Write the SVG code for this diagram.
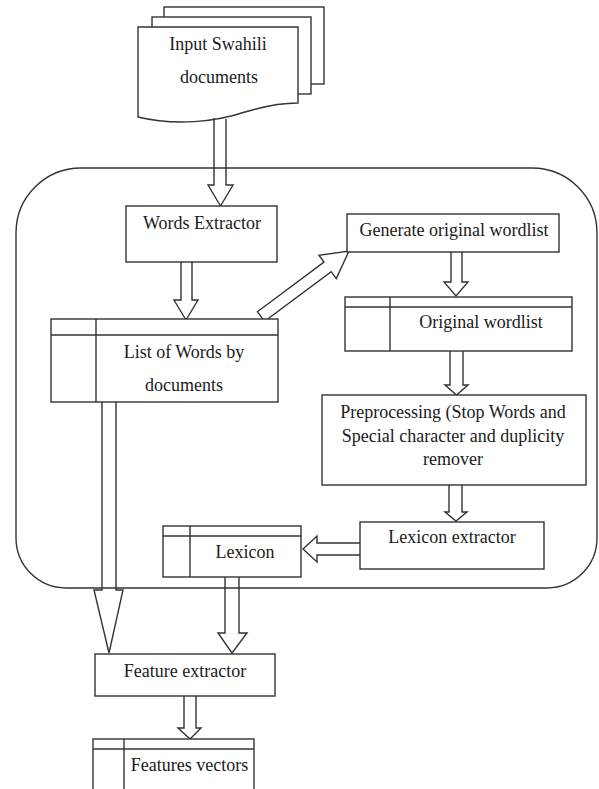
<svg xmlns="http://www.w3.org/2000/svg" width="599" height="789" viewBox="0 0 599 789">
<style>
.s{fill:#fff;stroke:#333;stroke-width:1.4}
.a{fill:none;stroke:#333;stroke-width:1.4;stroke-linejoin:miter}
.l{fill:none;stroke:#333;stroke-width:1.4}
text{font-family:"Liberation Serif","Times New Roman",serif;font-size:18px;fill:#1a1a1a;text-anchor:middle}
</style>
<rect width="599" height="789" fill="#fff"/>
<g id="system">
<path class="l" d="M81,168 H532 A65,65 0 0 1 597,233 V538 A50,50 0 0 1 547,588 H66 A50,50 0 0 1 16,538 V233 A65,65 0 0 1 81,168 Z"/>
</g>
<g id="input-docs">
<rect class="s" x="164" y="7" width="160" height="77"/>
<rect class="s" x="152" y="17" width="159" height="77"/>
<path class="s" d="M138,27 H298 V103 C285,103 265,106 245,112 C215,122 175,126 138,117 Z"/>
<text x="218" y="50">Input Swahili</text>
<text x="219" y="83">documents</text>
</g>
<g id="connectors">
<path class="a" d="M214,118 V185 H208 L220.5,206 L233,185 H226 V119"/>
<path class="a" d="M181,262 V300 H174 L186,320 L198,300 H192 V262"/>
<path class="a" d="M257.4,311.7 L324,262.1 L318.9,255.2 L349,251 L336.3,278.6 L331.2,271.7 L264.6,321.3 Z"/>
<path class="a" d="M451,252 V282 H444 L456,296 L468,282 H462 V252"/>
<path class="a" d="M450,351 V385 H445 L456.5,395 L468,385 H463 V351"/>
<path class="a" d="M449,485 V512 H445 L456,521 L467,512 H462 V485"/>
<path class="a" d="M360,543 H317 V536 L303,549 L317,562 V555 H360"/>
<path class="a" d="M102,402 V590 H94 L109,653 L123,590 H116 V402"/>
<path class="a" d="M225,577 V633 H218 L232,653 L247,633 H239 V577"/>
<path class="a" d="M184,696 V728 H178 L190,739 L201,728 H196 V696"/>
</g>
<g id="words-extractor">
<rect class="s" x="126" y="206" width="151" height="56"/>
<text x="202" y="229">Words Extractor</text>
</g>
<g id="list-of-words">
<rect class="s" x="51" y="319" width="227" height="83"/>
<line class="l" x1="51" y1="335" x2="278" y2="335"/>
<line class="l" x1="96" y1="319" x2="96" y2="402"/>
<text x="184" y="358">List of Words by</text>
<text x="184" y="391">documents</text>
</g>
<g id="generate-wordlist">
<rect class="s" x="347" y="214" width="212" height="38"/>
<text x="454" y="236">Generate original wordlist</text>
</g>
<g id="original-wordlist">
<rect class="s" x="345" y="297" width="227" height="54"/>
<line class="l" x1="345" y1="307" x2="572" y2="307"/>
<line class="l" x1="390" y1="297" x2="390" y2="351"/>
<text x="481" y="328">Original wordlist</text>
</g>
<g id="preprocessing">
<rect class="s" x="322" y="395" width="264" height="90"/>
<text x="453" y="418">Preprocessing (Stop Words and</text>
<text x="453" y="442">Special character and duplicity</text>
<text x="453" y="465">remover</text>
</g>
<g id="lexicon-extractor">
<rect class="s" x="360" y="522" width="184" height="47"/>
<text x="452" y="543">Lexicon extractor</text>
</g>
<g id="lexicon">
<rect class="s" x="163" y="526" width="138" height="51"/>
<line class="l" x1="163" y1="536" x2="301" y2="536"/>
<line class="l" x1="190" y1="526" x2="190" y2="577"/>
<text x="245" y="558">Lexicon</text>
</g>
<g id="feature-extractor">
<rect class="s" x="95" y="654" width="180" height="42"/>
<text x="185" y="677">Feature extractor</text>
</g>
<g id="features-vectors">
<rect class="s" x="93" y="739" width="161" height="60"/>
<line class="l" x1="93" y1="749" x2="254" y2="749"/>
<line class="l" x1="124" y1="739" x2="124" y2="799"/>
<text x="189.5" y="771">Features vectors</text>
</g>
</svg>
